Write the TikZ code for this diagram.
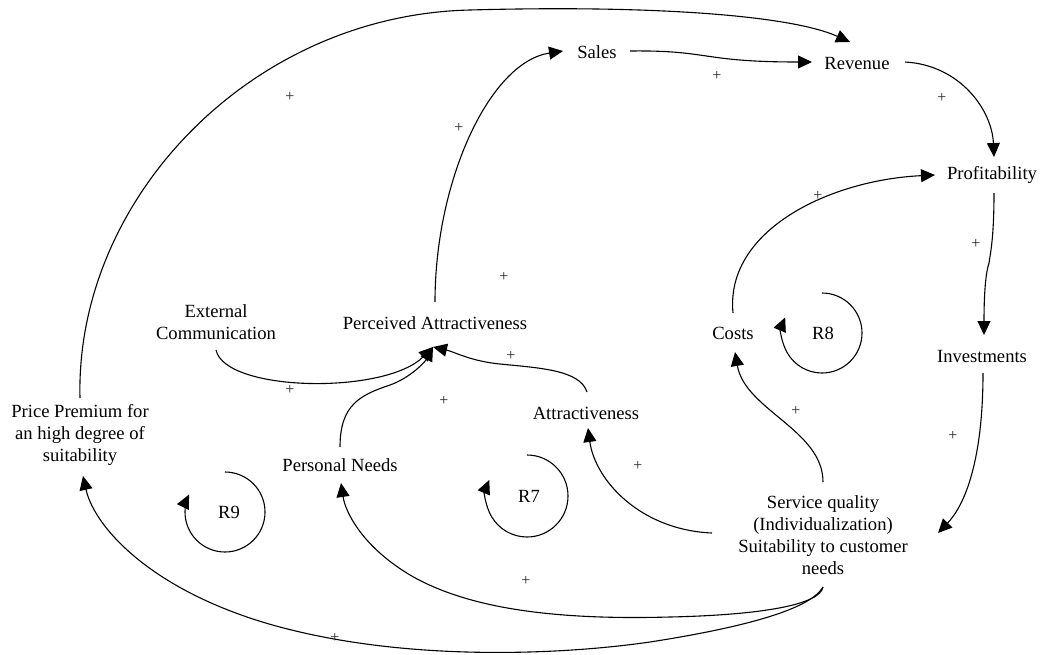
\documentclass[tikz,border=0pt]{standalone}
\usepackage{fontspec}
\setmainfont{Liberation Serif}
\usetikzlibrary{arrows.meta,calc}

\begin{document}
\begin{tikzpicture}[x=1pt,y=-1pt,
  every node/.style={inner sep=0pt,outer sep=0pt},
  var/.style={font=\fontsize{18.6}{22}\selectfont,align=center},
  pol/.style={font=\fontsize{16}{16}\selectfont,text=black!85},
  link/.style={line width=1.1pt,-{Triangle[length=14pt,width=13pt]}},
  loopline/.style={line width=1.1pt,-{Triangle[length=14pt,width=13pt]}}]

\useasboundingbox (0,0) rectangle (1042,654);

% variables
\node[var] (sales) at (597,52) {Sales};
\node[var] (rev)   at (857,63) {Revenue};
\node[var] (prof)  at (992,175) {Profitability};
\node[var] (inv)   at (982,356) {Investments};
\node[var] (costs) at (733,333) {Costs};
\node[var] (ext)   at (216,322) {External\\Communication};
\node[var] (pa)    at (435,323) {Perceived Attractiveness};
\node[var] (attr)  at (586,413) {Attractiveness};
\node[var] (pn)    at (340,465) {Personal Needs};
\node[var] (pp)    at (80,435)  {Price Premium for\\an high degree of\\suitability};
\node[var] (sq)    at (823,535) {Service quality\\(Individualization)\\Suitability to customer\\needs};

% loop identifiers
\node[var] (r7) at (529,496) {R7};
\node[var] (r8) at (823,333) {R8};
\node[var] (r9) at (229,512) {R9};

% junction where the three influences on perceived attractiveness meet
\coordinate (jn) at ($(pa)+(-2,24)$);

% causal links
\draw[link] ($(pp)+(0,-37)$) .. controls (75,200) and (250,15) .. (470,10)
  .. controls (650,5) and (790,15) .. ($(rev)+(-7,-21)$);
\draw[link] ($(sales)+(33,-1)$) .. controls (710,50) and (700,62) .. ($(rev)+(-45,-1)$);
\draw[link] ($(rev)+(48,-1)$) .. controls (960,65) and (992,110) .. ($(prof)+(2,-18)$);
\draw[link] ($(pa)+(0,-21)$) .. controls (435,180) and (490,62) .. ($(sales)+(-34,-1)$);
\draw[link] ($(ext)+(0,28)$) .. controls (225,392) and (385,395) .. (jn);
\draw[link] ($(pn)+(0,-18)$) .. controls (340,405) and (360,395) .. (390,385)
  .. controls (410,378) and (425,362) .. (jn);
\draw[link] ($(attr)+(1,-21)$) .. controls (580,370) and (540,368) .. (500,364)
  .. controls (470,361) and (455,352) .. (jn);
\draw[link] ($(sq)+(-111,-2)$) .. controls (640,530) and (595,480) .. ($(attr)+(2,15)$);
\draw[link] ($(sq)+(0,-53)$) .. controls (823,430) and (745,410) .. ($(costs)+(2,19)$);
\draw[link] ($(costs)+(0,-20)$) .. controls (725,230) and (830,180) .. ($(prof)+(-57,0)$);
\draw[link] ($(prof)+(2,18)$) .. controls (994,240) and (990,255) .. (989,263)
  .. controls (985,275) and (984,300) .. ($(inv)+(2,-21)$);
\draw[link] ($(inv)+(1,17)$) .. controls (983,460) and (965,505) .. ($(sq)+(115,-2)$);
\draw[link] ($(sq)+(0,52)$) .. controls (820,605) and (760,615) .. (670,617)
  .. controls (560,620) and (470,610) .. (410,575)
  .. controls (360,545) and (345,510) .. ($(pn)+(1,18)$);
\draw[link] ($(sq)+(0,52)$) .. controls (810,610) and (740,628) .. (650,642)
  .. controls (560,655) and (420,660) .. (300,632)
  .. controls (160,600) and (95,530) .. ($(pp)+(3,41)$);

% loop arrows
\draw[loopline] ($(r8)+(-1,-40)$) arc[start angle=-90,end angle=203,radius=40];
\draw[loopline] ($(r9)+(-4,-40)$) arc[start angle=-90,end angle=206,radius=40];
\draw[loopline] ($(r7)+(-2,-41)$) arc[start angle=-90,end angle=203,radius=41];

% polarities
\node[pol] (p1)  at (290,97)  {+};
\node[pol] (p2)  at (717,76)  {+};
\node[pol] (p3)  at (942,98)  {+};
\node[pol] (p4)  at (459,128) {+};
\node[pol] (p5)  at (504,277) {+};
\node[pol] (p6)  at (818,196) {+};
\node[pol] (p7)  at (976,244) {+};
\node[pol] (p8)  at (290,390) {+};
\node[pol] (p9)  at (511,356) {+};
\node[pol] (p10) at (444,401) {+};
\node[pol] (p11) at (796,411) {+};
\node[pol] (p12) at (638,466) {+};
\node[pol] (p13) at (953,436) {+};
\node[pol] (p14) at (526,581) {+};
\node[pol] (p15) at (335,638) {+};
\end{tikzpicture}
\end{document}
